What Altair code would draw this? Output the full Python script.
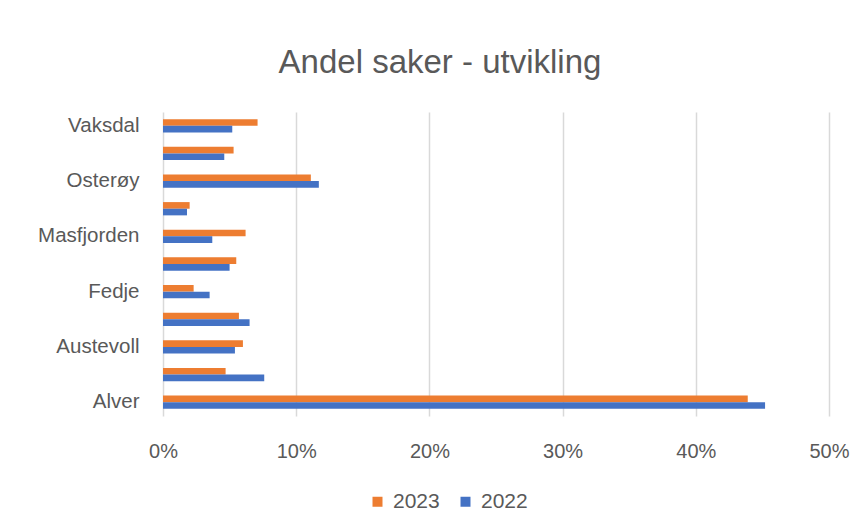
import altair as alt
import pandas as pd

categories = ["Alver", "Askøy", "Austevoll", "Austrheim", "Fedje", "Gulen",
              "Masfjorden", "Modalen", "Osterøy", "Samnanger", "Vaksdal"]
values_2023 = [0.439, 0.047, 0.060, 0.057, 0.023, 0.055, 0.062, 0.020, 0.111, 0.053, 0.071]
values_2022 = [0.452, 0.076, 0.054, 0.065, 0.035, 0.050, 0.037, 0.018, 0.117, 0.046, 0.052]
shown_labels = ["Vaksdal", "Osterøy", "Masfjorden", "Fedje", "Austevoll", "Alver"]
years = ["2023", "2022"]
colors = ["#ED7D31", "#4472C4"]

rows = []
for c, a, b in zip(categories, values_2023, values_2022):
    rows.append({"kommune": c, "year": "2023", "value": a})
    rows.append({"kommune": c, "year": "2022", "value": b})
df = pd.DataFrame(rows)

font = "Liberation Sans"
grey = "#595959"

chart = alt.Chart(df).mark_bar().encode(
    y=alt.Y("kommune:N", sort=list(reversed(categories)),
            scale=alt.Scale(paddingInner=0.52, paddingOuter=0.26),
            axis=alt.Axis(title=None, values=shown_labels, ticks=False, domain=False,
                          labelFontSize=20.5, labelColor=grey, labelFont=font,
                          labelPadding=24, grid=False)),
    yOffset=alt.YOffset("year:N", sort=years, scale=alt.Scale(paddingInner=0.0)),
    x=alt.X("value:Q", scale=alt.Scale(domain=[0, 0.5]),
            axis=alt.Axis(title=None, format=".0%", values=[0, 0.1, 0.2, 0.3, 0.4, 0.5],
                          ticks=False, domain=False, labelFontSize=20, labelColor=grey,
                          labelFont=font, labelPadding=25, labelFlush=False,
                          gridColor="#d9d9d9", gridWidth=1.5)),
    color=alt.Color("year:N", sort=years,
                    scale=alt.Scale(domain=years, range=colors),
                    legend=alt.Legend(title=None, orient="none", direction="horizontal",
                                      legendX=204, legendY=379, symbolType="square",
                                      symbolSize=100, symbolStrokeWidth=0,
                                      labelFontSize=21, labelColor=grey, labelFont=font,
                                      labelOffset=5, columnPadding=15)),
).properties(
    width=666, height=304,
    title=alt.TitleParams("Andel saker - utvikling", fontSize=33, font=font,
                          color=grey, fontWeight="normal", dx=-56, offset=32),
    autosize=alt.AutoSizeParams(type="none"),
    padding={"left": 155, "top": 104, "right": 30, "bottom": 100},
).configure_view(stroke=None)

chart.save("out.html", embed_options={"renderer": "svg", "actions": False})
